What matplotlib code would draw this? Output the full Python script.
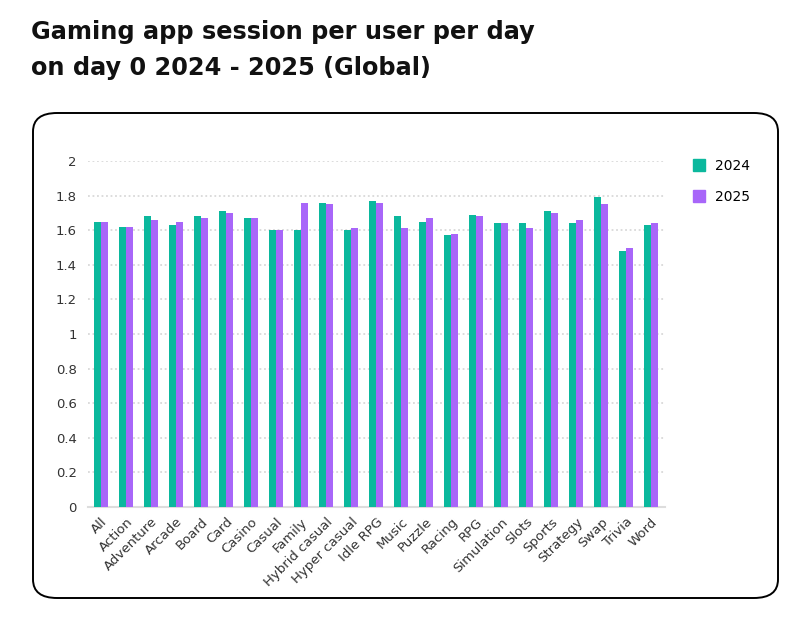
import matplotlib.pyplot as plt
import numpy as np
from matplotlib.patches import FancyBboxPatch
from matplotlib.lines import Line2D

plt.rcParams['font.family'] = ['DejaVu Sans']

categories = ['All', 'Action', 'Adventure', 'Arcade', 'Board', 'Card', 'Casino', 'Casual',
              'Family', 'Hybrid casual', 'Hyper casual', 'Idle RPG', 'Music', 'Puzzle',
              'Racing', 'RPG', 'Simulation', 'Slots', 'Sports', 'Strategy', 'Swap',
              'Trivia', 'Word']
v2024 = [1.65, 1.62, 1.68, 1.63, 1.68, 1.71, 1.67, 1.60, 1.60, 1.76, 1.60, 1.77,
         1.68, 1.65, 1.575, 1.69, 1.64, 1.64, 1.71, 1.64, 1.79, 1.48, 1.63]
v2025 = [1.65, 1.62, 1.66, 1.65, 1.67, 1.70, 1.67, 1.60, 1.76, 1.75, 1.61, 1.76,
         1.61, 1.67, 1.58, 1.68, 1.64, 1.61, 1.70, 1.66, 1.75, 1.50, 1.64]
yticks = [0, 0.2, 0.4, 0.6, 0.8, 1, 1.2, 1.4, 1.6, 1.8, 2]

teal = '#0BB89D'
purple = '#A866F9'

fig = plt.figure(figsize=(8.03, 6.19), dpi=100)

# rounded frame around chart (behind the axes)
box = FancyBboxPatch((33 / 803, 1 - 598 / 619), 745 / 803, 485 / 619,
                     boxstyle='round,pad=0,rounding_size=0.03',
                     transform=fig.transFigure, fc='white', ec='black', lw=1.4, zorder=-5)
fig.patches.append(box)

fig.text(31 / 803, 1 - 20 / 619, 'Gaming app session per user per day\non day 0 2024 - 2025 (Global)',
         fontsize=17.3, fontweight='bold', va='top', ha='left', linespacing=1.65, color='#111111')

ax = fig.add_axes([88 / 803, 1 - 507 / 619, (665 - 88) / 803, (507 - 161) / 619])
ax.set_zorder(2)
ax.patch.set_alpha(0)
x = np.arange(len(categories))
w = 0.28
ax.bar(x - w / 2, v2024, w, color=teal, zorder=3)
ax.bar(x + w / 2, v2025, w, color=purple, zorder=3)

ax.set_xlim(-0.52, len(categories) - 0.44)
ax.set_ylim(0, 2)
ax.set_yticks(yticks)
ax.set_yticklabels([f'{t:g}' for t in yticks], fontsize=9.5, color='#333333')
ax.set_xticks(x)
ax.set_xticklabels(categories, rotation=45, ha='right', rotation_mode='anchor',
                   fontsize=9.5, color='#333333')
ax.tick_params(length=0, pad=6)
ax.tick_params(axis='y', pad=8)
ax.grid(axis='y', linestyle=(0, (1, 1.5)), color='#d9d9d9', lw=1.3, zorder=0)
for s in ['top', 'right', 'left']:
    ax.spines[s].set_visible(False)
ax.spines['bottom'].set_color('#dddddd')
ax.spines['bottom'].set_linewidth(1.5)

handles = [Line2D([], [], marker='s', ls='', color=teal, markersize=9),
           Line2D([], [], marker='s', ls='', color=purple, markersize=9)]
fig.legend(handles, ['2024', '2025'], loc='upper left',
           bbox_to_anchor=(680 / 803, 1 - 146 / 619), frameon=False,
           fontsize=10, handletextpad=0.6, labelspacing=1.25, handlelength=1)

fig.savefig('out.png', dpi=100)
